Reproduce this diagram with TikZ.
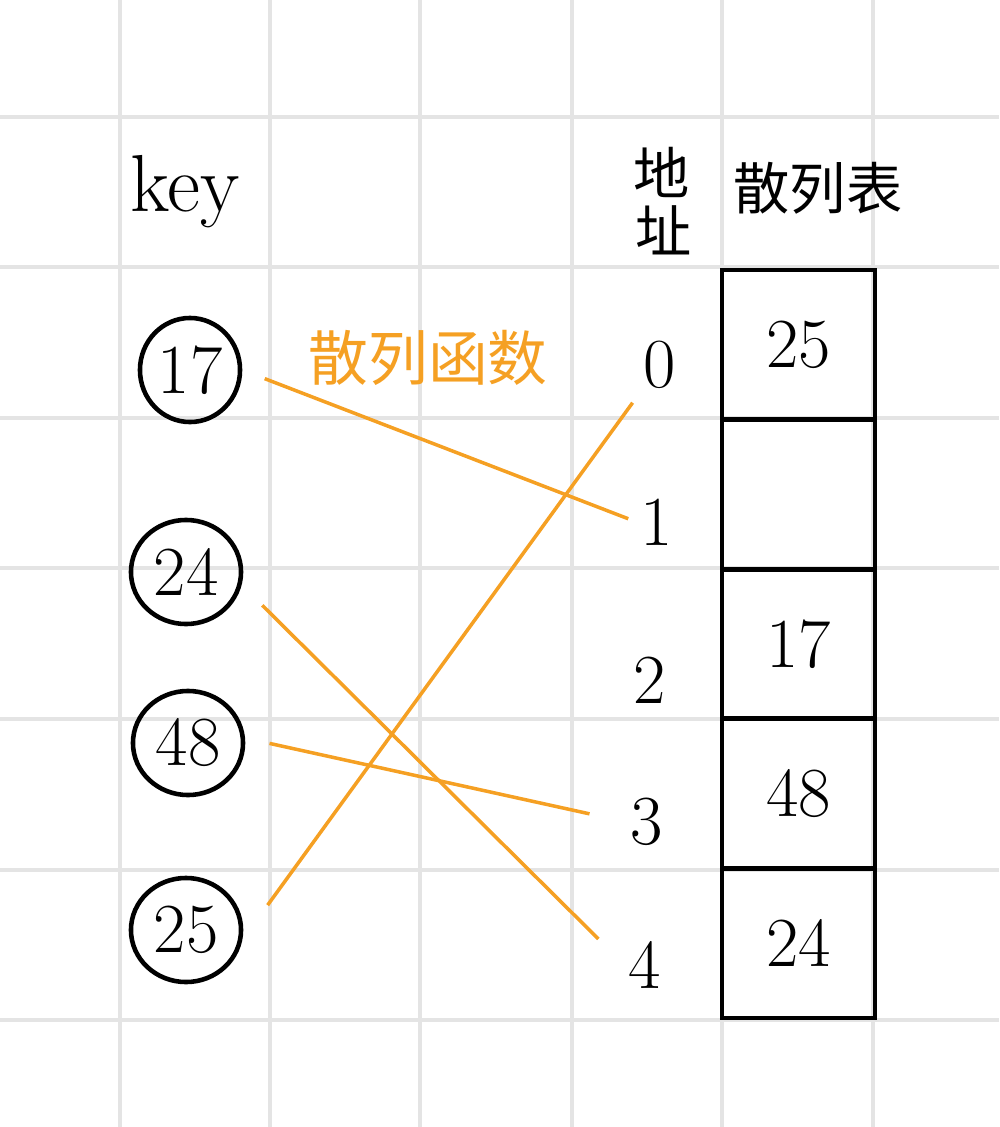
\documentclass[tikz,border=0pt]{standalone}
\usepackage{fontspec}
\usetikzlibrary{shapes.geometric}
\newfontfamily\cjk{Noto Sans CJK SC}
\definecolor{hashorange}{RGB}{245,160,35}
\definecolor{gridgray}{RGB}{228,228,228}
\tikzstyle{keynode}=[ellipse, draw, line width=1.3pt, minimum width=1.1cm, minimum height=1.04cm, inner sep=0pt, font=\fontsize{20}{20}\selectfont]
\tikzstyle{addr}=[inner sep=1pt, font=\fontsize{20}{20}\selectfont]
\tikzstyle{cell}=[rectangle, draw, line width=1.3pt, minimum width=1.53cm, minimum height=1.496cm, inner sep=0pt, font=\fontsize{20}{20}\selectfont]
\tikzstyle{head}=[font=\cjk\fontsize{16}{16}\selectfont]
\tikzstyle{hash}=[draw=hashorange, line width=1pt]

\begin{document}
\begin{tikzpicture}[x=0.01cm, y=-0.01cm]
		   \useasboundingbox (0,0) rectangle (999,1127);
		   % grid
		   \begin{scope}[gridgray, line width=1.2pt]
			   \foreach \x in {120,270,420,572,722,873}
				   \draw (\x,0) -- (\x,1127);
			   \foreach \y in {117,267,418,568,719,870,1020}
				   \draw (0,\y) -- (999,\y);
		   \end{scope}
		   % headings
		   \begin{scope}
			   \node (key) at (185,192) [font=\fontsize{23}{23}\selectfont] {key};
			   \node (di) at (662,172) [head] {地};
			   \node (zhi) at (664,230) [head] {址};
			   \node (table) at (818,188) [head] {散列表};
			   \node (func) at (428,358) [head, text=hashorange, font=\cjk\fontsize{17}{17}\selectfont] {散列函数};
		   \end{scope}
		   % keys
		   \begin{scope}
			   \node (k17) at (190,370) [keynode, minimum width=1.0cm] {17};
			   \node (k24) at (186,572) [keynode] {24};
			   \node (k48) at (188,743) [keynode] {48};
			   \node (k25) at (186,930) [keynode] {25};
		   \end{scope}
		   % addresses
		   \begin{scope}
			   \node (a0) at (660,365) [addr] {0};
			   \node (a1) at (657,522) [addr] {1};
			   \node (a2) at (650,680) [addr] {2};
			   \node (a3) at (647,822) [addr] {3};
			   \node (a4) at (645,965) [addr] {4};
		   \end{scope}
		   % table
		   \begin{scope}
			   \node (c0) at (798.5,344.8) [cell] {25};
			   \node (c1) at (798.5,494.4) [cell] {};
			   \node (c2) at (798.5,644.0) [cell] {17};
			   \node (c3) at (798.5,793.6) [cell] {48};
			   \node (c4) at (798.5,943.2) [cell] {24};
		   \end{scope}
		   % hash function
		   \begin{scope}
			   \path [hash, shorten <=0.24cm, shorten >=0.09cm] (k17.east) edge (a1.west);
			   \path [hash, shorten <=0.29cm, shorten >=0.37cm] (k24.-13) edge (a4.west);
			   \path [hash, shorten <=0.25cm, shorten >=0.38cm] (k48.5) edge (a3.west);
			   \path [hash, shorten <=0.43cm, shorten >=0.12cm] (k25.-10) edge (a0.south west);
		   \end{scope}
	   \end{tikzpicture}
\end{document}
